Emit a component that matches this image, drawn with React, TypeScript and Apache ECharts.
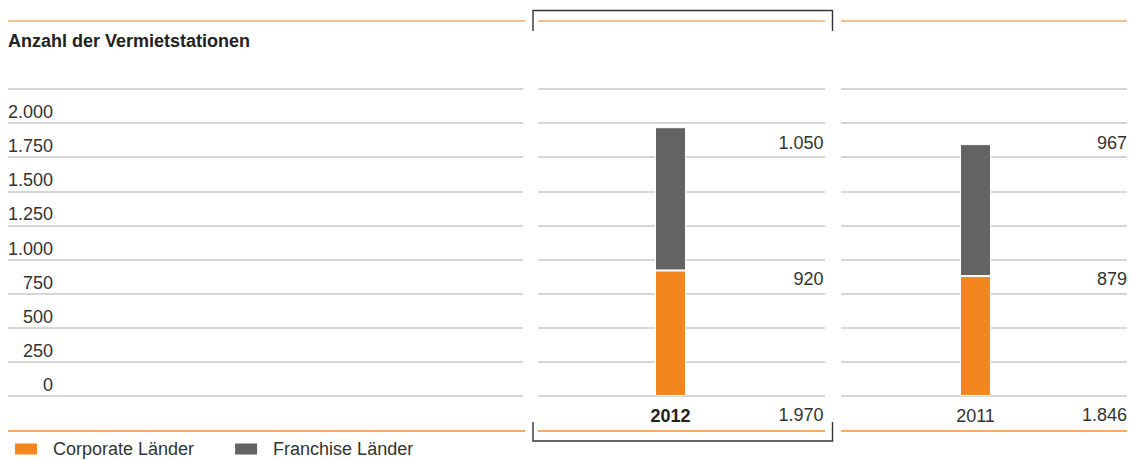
import React, { useEffect, useRef } from 'react';
import * as echarts from 'echarts';

// ---- data ----
const title = 'Anzahl der Vermietstationen';
const years = ['2012', '2011'];
const corporate = [920, 879];
const franchise = [1050, 967];
const yTicks = [0, 250, 500, 750, 1000, 1250, 1500, 1750, 2000];
const seriesNames = ['Corporate Länder', 'Franchise Länder'];

const fmt = (n: number) => String(n).replace(/\B(?=(\d{3})+(?!\d))/g, '.');

const FONT = "'Liberation Sans', Arial, Helvetica, sans-serif";
const ORANGE = '#F4861F';
const GRAY = '#636363';
const TEXT = '#333333';
const GRID_COLOR = '#c8c8c8';

const TOP = 89;
const HEIGHT = 307;
const Y_MIN = yTicks[0];
const Y_STEP = yTicks[1] - yTicks[0];
const Y_MAX = yTicks[yTicks.length - 1] + Y_STEP;

const panels = [
  { left: 8, width: 515 },
  { left: 538, width: 287 },
  { left: 841, width: 286 },
];
const barPanels = [
  { left: 540, width: 261 },
  { left: 845, width: 261 },
];
const labelRight = [823.5, 1127];

export default function App() {
  const ref = useRef<HTMLDivElement>(null);

  useEffect(() => {
    if (!ref.current) return;
    const chart = echarts.init(ref.current, undefined, { renderer: 'svg' });

    const grids: any[] = [
      ...panels.map((p) => ({ left: p.left, width: p.width, top: TOP, height: HEIGHT })),
      ...barPanels.map((p) => ({ left: p.left, width: p.width, top: TOP, height: HEIGHT })),
    ];

    const xAxes: any[] = [
      ...panels.map((_, i) => ({ gridIndex: i, type: 'value', show: false })),
      ...years.map((y, i) => ({
        gridIndex: 3 + i,
        type: 'category',
        data: [y],
        axisLine: { show: false },
        axisTick: { show: false },
        axisLabel: {
          margin: 11,
          fontSize: 18,
          fontFamily: FONT,
          fontWeight: i === 0 ? 'bold' : 'normal',
          color: i === 0 ? '#222' : TEXT,
        },
      })),
    ];

    const yAxes: any[] = [
      ...panels.map((_, i) => ({
        gridIndex: i,
        type: 'value',
        min: Y_MIN,
        max: Y_MAX,
        interval: Y_STEP,
        axisLine: { show: false },
        axisTick: { show: false },
        splitLine: { show: true, lineStyle: { color: GRID_COLOR, width: 1.5 } },
        axisLabel:
          i === 0
            ? {
                show: true,
                margin: -45,
                align: 'right',
                verticalAlign: 'bottom',
                lineHeight: 18,
                padding: [0, 0, 2, 0],
                fontSize: 18,
                fontFamily: FONT,
                color: TEXT,
                formatter: (v: number) => (yTicks.indexOf(v) >= 0 ? fmt(v) : ''),
              }
            : { show: false },
      })),
      ...years.map((_, i) => ({
        gridIndex: 3 + i,
        type: 'value',
        min: Y_MIN,
        max: Y_MAX,
        interval: Y_STEP,
        show: false,
        splitLine: { show: false },
      })),
    ];

    const series: any[] = [];
    years.forEach((_, i) => {
      series.push({
        type: 'bar',
        name: seriesNames[0],
        xAxisIndex: 3 + i,
        yAxisIndex: 3 + i,
        stack: 'year' + i,
        barWidth: 31,
        data: [corporate[i]],
        itemStyle: { color: ORANGE, borderColor: '#fff', borderWidth: 1 },
      });
      series.push({
        type: 'bar',
        name: seriesNames[1],
        xAxisIndex: 3 + i,
        yAxisIndex: 3 + i,
        stack: 'year' + i,
        barWidth: 31,
        data: [franchise[i]],
        itemStyle: { color: GRAY, borderColor: '#fff', borderWidth: 1 },
      });
    });

    const graphics: any[] = [];
    graphics.push({
      type: 'text',
      x: 8,
      y: 41,
      style: {
        text: title,
        fontSize: 18,
        fontWeight: 'bold',
        fontFamily: FONT,
        fill: '#222',
        align: 'left',
        verticalAlign: 'middle',
      },
    });
    const lineSpans = [
      [8, 525],
      [538, 825],
      [841, 1127],
    ];
    lineSpans.forEach(([a, b]) => {
      graphics.push({
        type: 'line',
        shape: { x1: a, y1: 21, x2: b, y2: 21 },
        style: { stroke: '#F9A862', lineWidth: 1.5 },
      });
      graphics.push({
        type: 'line',
        shape: { x1: a, y1: 431, x2: b, y2: 431 },
        style: { stroke: '#F39131', lineWidth: 1.5 },
      });
    });
    graphics.push({
      type: 'polyline',
      shape: { points: [[533, 31], [533, 10.5], [832.5, 10.5], [832.5, 31]] },
      style: { stroke: '#333', lineWidth: 1.4, fill: null },
    });
    graphics.push({
      type: 'polyline',
      shape: { points: [[533, 422], [533, 441], [832.5, 441], [832.5, 422]] },
      style: { stroke: '#333', lineWidth: 1.4, fill: null },
    });

    years.forEach((_, i) => {
      const rows = [
        { v: franchise[i], y: 143 },
        { v: corporate[i], y: 279 },
        { v: corporate[i] + franchise[i], y: 415 },
      ];
      rows.forEach((r) => {
        graphics.push({
          type: 'text',
          x: labelRight[i],
          y: r.y,
          style: {
            text: fmt(r.v),
            fontSize: 18,
            fontFamily: FONT,
            fill: TEXT,
            align: 'right',
            verticalAlign: 'middle',
          },
        });
      });
    });

    chart.setOption({
      animation: false,
      grid: grids,
      xAxis: xAxes,
      yAxis: yAxes,
      series,
      legend: {
        left: 8,
        top: 435,
        padding: 5,
        icon: 'rect',
        itemWidth: 24,
        itemHeight: 13,
        itemGap: 39,
        selectedMode: false,
        data: seriesNames,
        textStyle: { fontSize: 18, fontFamily: FONT, color: TEXT, padding: [0, 0, 0, 10] },
      },
      graphic: graphics,
    });

    return () => chart.dispose();
  }, []);

  return (
    <div
      ref={ref}
      style={{ position: 'fixed', left: 0, top: 0, width: 1130, height: 460, background: '#fff' }}
    />
  );
}
